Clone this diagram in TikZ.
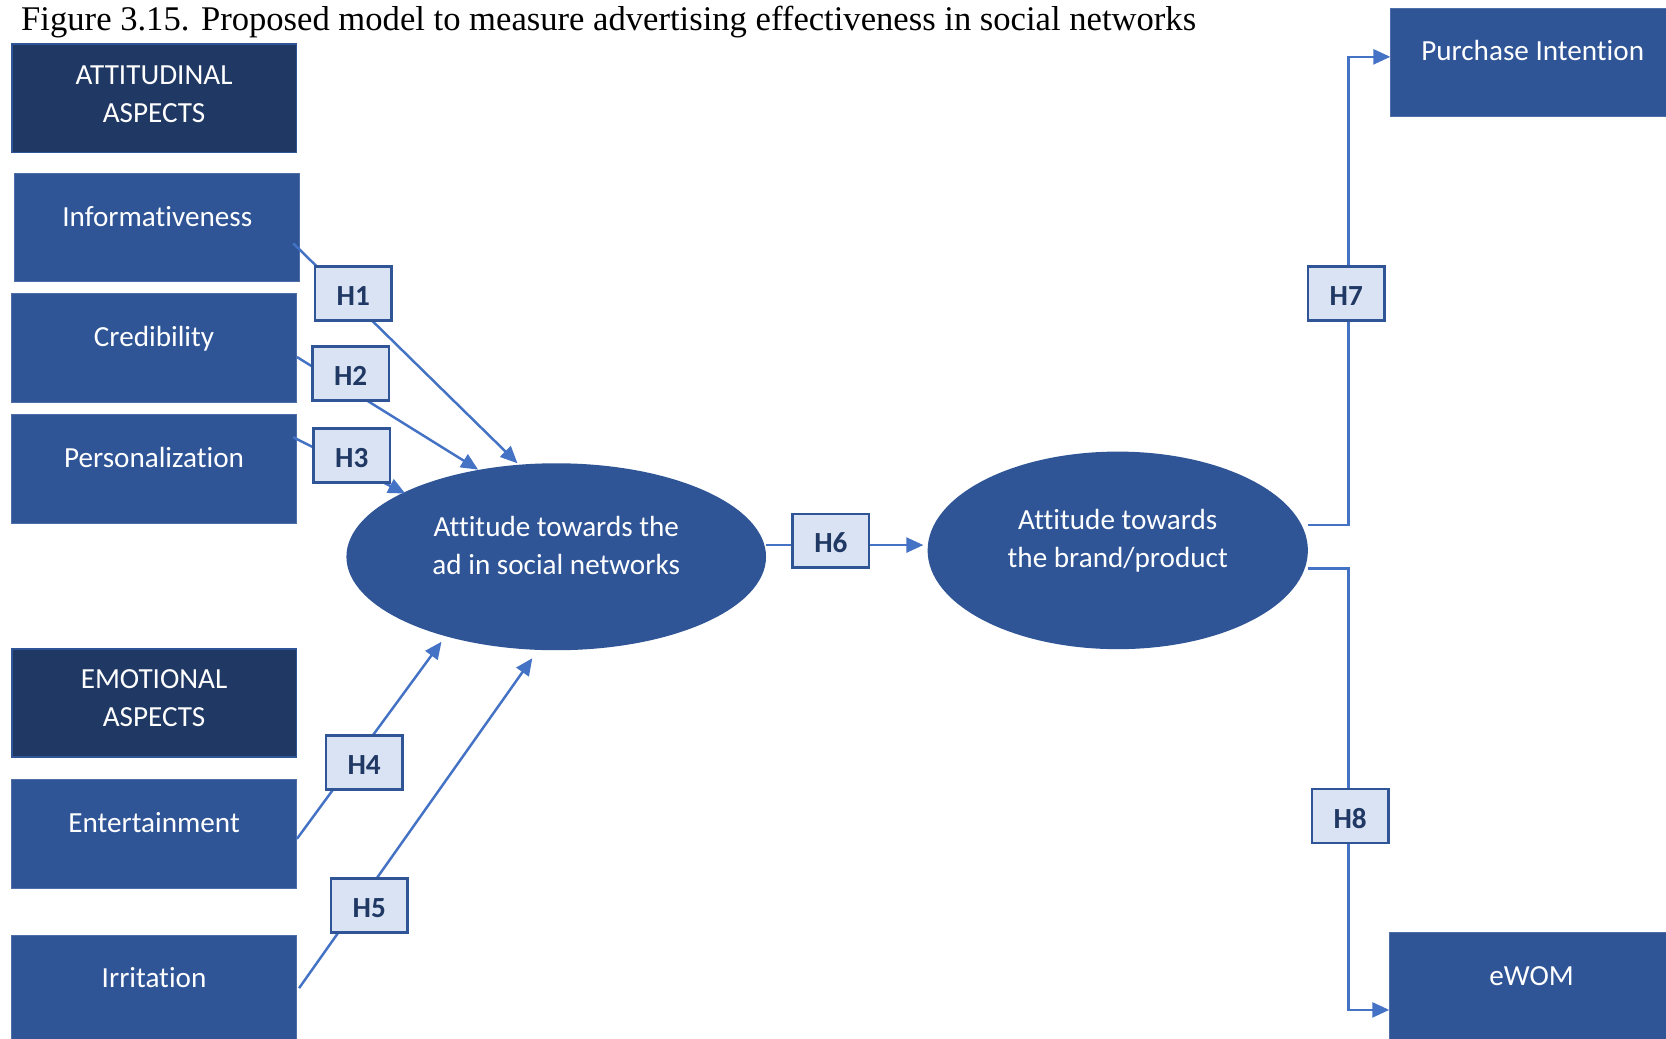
\documentclass[tikz,border=0pt]{standalone}
\usepackage{fontspec}
\setmainfont{Liberation Serif}
\newfontfamily\boxfont[Ligatures=NoCommon]{Carlito}
\usetikzlibrary{arrows.meta,calc,shapes.geometric}
\definecolor{navy}{HTML}{203864}
\definecolor{midblue}{HTML}{2F5597}
\definecolor{paleblue}{HTML}{DAE3F3}
\definecolor{linkblue}{HTML}{4472C4}
\newcommand{\twolines}[2]{\begin{tabular}{@{}c@{}}#1\\#2\end{tabular}}
\begin{document}
\begin{tikzpicture}[x=0.02125cm,y=-0.02125cm,
  every node/.style={inner sep=0pt, outer sep=0pt},
  boxtext/.style={font=\boxfont\fontsize{16.6}{21.7}\selectfont, text=white},
  factor/.style={rectangle, boxtext, fill=midblue, draw=midblue!85!white, line width=0.5pt,
    minimum width=5.695cm, minimum height=2.1675cm, text height=12pt, text depth=13.4pt},
  header/.style={factor, fill=navy, draw=midblue, line width=1pt,
    text height=24pt, text depth=18.5pt},
  construct/.style={ellipse, boxtext, fill=midblue, text height=24pt, text depth=25.7pt},
  hyp/.style={rectangle, fill=paleblue, draw=midblue, line width=1.5pt,
    minimum width=1.53cm, minimum height=1.08cm, text=navy,
    font=\boxfont\bfseries\fontsize{16.6}{20}\selectfont, text height=13.7pt, text depth=0pt},
  link/.style={draw=linkblue, line width=1.4pt},
  arrow/.style={link, -{Triangle[length=0.34cm,width=0.3cm]}}
]
\clip (0,0) rectangle (1568,977);
\fill[white] (0,0) rectangle (1568,977);

% caption
\node[anchor=base west, font=\fontsize{19.7}{23}\selectfont] (caption) at (20,29)
  {Figure 3.15. Proposed model to measure advertising effectiveness in social networks};

% antecedents
\node[header] (att) at (145,92.5) {\twolines{ATTITUDINAL}{ASPECTS}};
\node[factor] (info) at (148,214) {Informativeness};
\node[factor] (cred) at (145,327.5) {Credibility};
\node[factor] (pers) at (145,441.5) {Personalization};
\node[header] (emo) at (145,661.5) {\twolines{EMOTIONAL}{ASPECTS}};
\node[factor] (ent) at (145,785) {Entertainment};
\node[factor] (irr) at (145,931) {Irritation};

% attitudes
\node[construct, minimum width=8.394cm, minimum height=3.74cm] (ell1) at (523.5,524)
  {\twolines{Attitude towards the}{ad in social networks}};
\node[construct, minimum width=7.6075cm, minimum height=3.9525cm] (ell2) at (1052,518)
  {\twolines{Attitude towards}{the brand/product}};

% outcomes
\node[factor] (pi) at (1442.5,58.5) {Purchase Intention};
\node[factor] (ewom) at (1441.5,929) {eWOM};

% hypothesised paths
\draw[arrow] ($(info.east)+(-6,15)$) -- ($(ell1.center)+(-36.5,-88)$);
\draw[arrow] ($(cred.east)+(0.5,8.5)$) -- ($(ell1.center)+(-73.5,-82)$);
\draw[arrow] ($(pers.east)+(-3,-30)$) -- ($(ell1.center)+(-142,-59.5)$);
\draw[arrow] ($(ent.east)+(0.5,4.5)$) -- ($(ell1.center)+(-108,80)$);
\draw[arrow] ($(irr.east)+(2.5,-1)$) -- ($(ell1.center)+(-22.5,95.5)$);
\draw[arrow] ($(ell1.east)+(0,-11)$) -- ($(ell2.west)+(-4,-5)$);
\draw[arrow] ($(ell2.east)+(0,-24)$) -- ++(38,0) |- ($(pi.west)+(0,-5)$);
\draw[arrow] ($(ell2.east)+(0,17)$) -- ++(38,0) |- ($(ewom.west)+(0,21.5)$);

% hypothesis labels
\node[hyp] (h1) at (332.5,276) {H1};
\node[hyp] (h2) at (330,351.5) {H2};
\node[hyp] (h3) at (331,428.7) {H3};
\node[hyp] (h4) at (342.7,717.6) {H4};
\node[hyp] (h5) at (347.5,852.5) {H5};
\node[hyp] (h6) at (782,509) {H6};
\node[hyp] (h7) at (1267,276) {H7};
\node[hyp] (h8) at (1270.7,768) {H8};
\end{tikzpicture}
\end{document}
